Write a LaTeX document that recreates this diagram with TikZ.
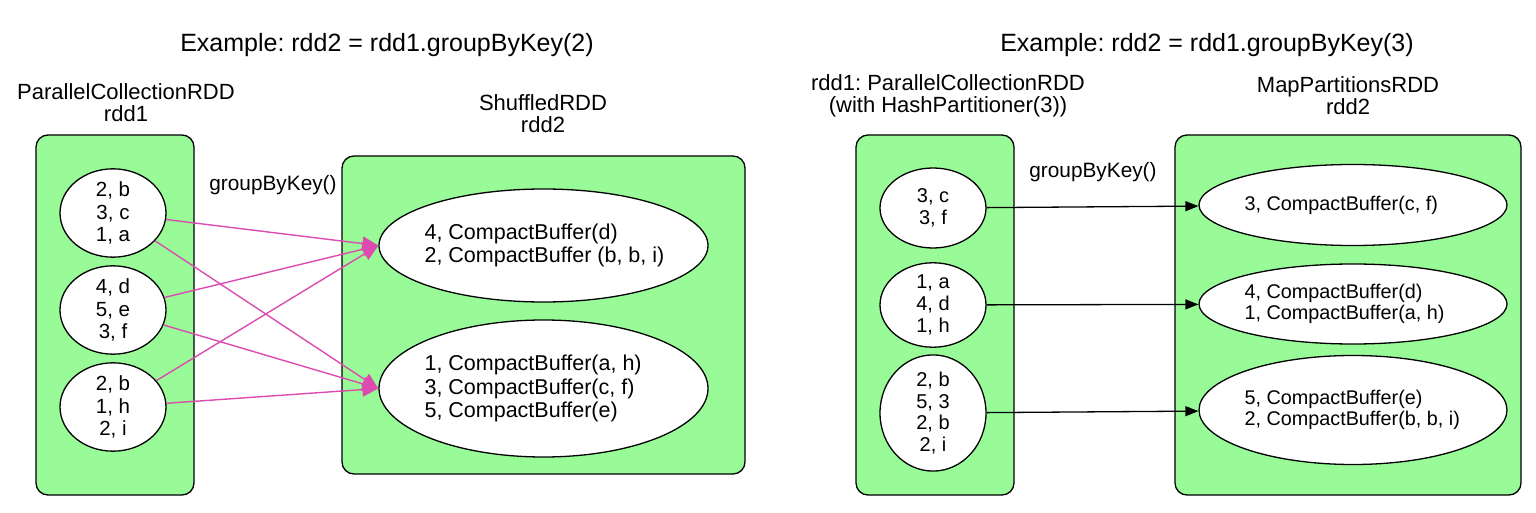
\documentclass[tikz,border=0pt]{standalone}
\usepackage{fontspec}
\setmainfont{Liberation Sans}
\frenchspacing
\usetikzlibrary{shapes,shapes.geometric,arrows,arrows.meta,calc,positioning}
\definecolor{rddgreen}{RGB}{152,251,152}
\definecolor{shufflepink}{RGB}{220,75,175}

\begin{document}
\begin{tikzpicture}[x=1pt, y=-1pt,
    title/.style={font=\fontsize{25}{30}\selectfont},
    head/.style={align=center, font=\fontsize{22}{22}\selectfont},
    op/.style={font=\fontsize{20.8}{23}\selectfont},
    rdd/.style={rectangle, rounded corners=12pt, draw, line width=1.3pt,
        fill=rddgreen, inner sep=0pt},
    part/.style={ellipse, draw, line width=1.3pt, fill=white, inner sep=0pt,
        align=center, minimum width=106pt, font=\fontsize{20.5}{22.5}\selectfont},
    bucket/.style={ellipse, draw, line width=1.3pt, fill=white, inner sep=0pt},
    buf/.style={anchor=west, align=left, inner sep=0pt,
        font=\fontsize{21.5}{23.3}\selectfont},
    shuffle/.style={color=shufflepink, line width=1.4pt,
        -{Triangle[length=16pt,width=14pt]}},
    hash/.style={draw, line width=1.3pt, -{Triangle[length=13pt,width=10pt]}}]
  \useasboundingbox (0,0) rectangle (1536,513);

  % groupByKey(2)
  \node [title] (ex1) at (387,45) {Example: rdd2 = rdd1.groupByKey(2)};
  \node [head]  (h1)  at (126,103) {ParallelCollectionRDD\\rdd1};
  \node [head]  (h2)  at (543,114) {ShuffledRDD\\rdd2};
  \node [rdd, minimum width=158pt, minimum height=360pt] (rdd1) at (115,315) {};
  \node [rdd, minimum width=403pt, minimum height=318pt] (rdd2) at (543.5,315) {};
  \node [op] (g1) at (273,185) {groupByKey()};

  \node [part, minimum height=80pt] (a1) at (113,213) {2, b\\3, c\\1, a};
  \node [part, minimum height=80pt] (a2) at (113,310) {4, d\\5, e\\3, f};
  \node [part, minimum height=80pt] (a3) at (113,407) {2, b\\1, h\\2, i};
  \node [bucket, minimum width=329pt, minimum height=113pt] (b1) at (543.5,245.5) {};
  \node [bucket, minimum width=329pt, minimum height=137pt] (b2) at (543.5,388.5) {};
  \node [buf] (b1txt) at ([xshift=46pt]b1.west)
        {4, CompactBuffer(d)\\2, CompactBuffer (b, b, i)};
  \node [buf] (b2txt) at ([xshift=46pt]b2.west)
        {1, CompactBuffer(a, h)\\3, CompactBuffer(c, f)\\5, CompactBuffer(e)};

  \path [shuffle] (a1) edge (b1.west) edge (b2.west)
                  (a2) edge (b1.west) edge (b2.west)
                  (a3) edge (b1.west) edge (b2.west);

  % groupByKey(3)
  \node [title] (ex2) at (1207,45) {Example: rdd2 = rdd1.groupByKey(3)};
  \node [head]  (h3)  at (948,96) {rdd1: ParallelCollectionRDD\\(with HashPartitioner(3))};
  \node [head]  (h4)  at (1348,96) {MapPartitionsRDD\\rdd2};
  \node [rdd, minimum width=158pt, minimum height=360pt] (rdd3) at (935,315) {};
  \node [rdd, minimum width=346pt, minimum height=360pt] (rdd4) at (1348,315) {};
  \node [op] (g2) at (1093,172) {groupByKey()};

  \begin{scope}[part/.append style={font=\fontsize{20}{21.7}\selectfont},
                buf/.append style={font=\fontsize{19.8}{21.7}\selectfont}]
  \node [part, minimum height=80pt]  (c1) at (933,208) {3, c\\3, f};
  \node [part, minimum height=80pt]  (c2) at (933,305) {1, a\\4, d\\1, h};
  \node [part, minimum height=106pt] (c3) at (933,413) {2, b\\5, 3\\2, b\\2, i};
  \node [bucket, minimum width=308pt, minimum height=81pt]  (d1) at (1353,205) {};
  \node [bucket, minimum width=308pt, minimum height=80pt]  (d2) at (1353,304) {};
  \node [bucket, minimum width=308pt, minimum height=109pt] (d3) at (1353,410) {};
  \node [buf] (d1txt) at ([xshift=46pt]d1.west) {3, CompactBuffer(c, f)};
  \node [buf] (d2txt) at ([xshift=46pt]d2.west) {4, CompactBuffer(d)\\1, CompactBuffer(a, h)};
  \node [buf] (d3txt) at ([xshift=46pt]d3.west) {5, CompactBuffer(e)\\2, CompactBuffer(b, b, i)};
  \end{scope}

  \path [hash] (c1) edge (d1)
               (c2) edge (d2)
               (c3) edge (d3);
\end{tikzpicture}
\end{document}
